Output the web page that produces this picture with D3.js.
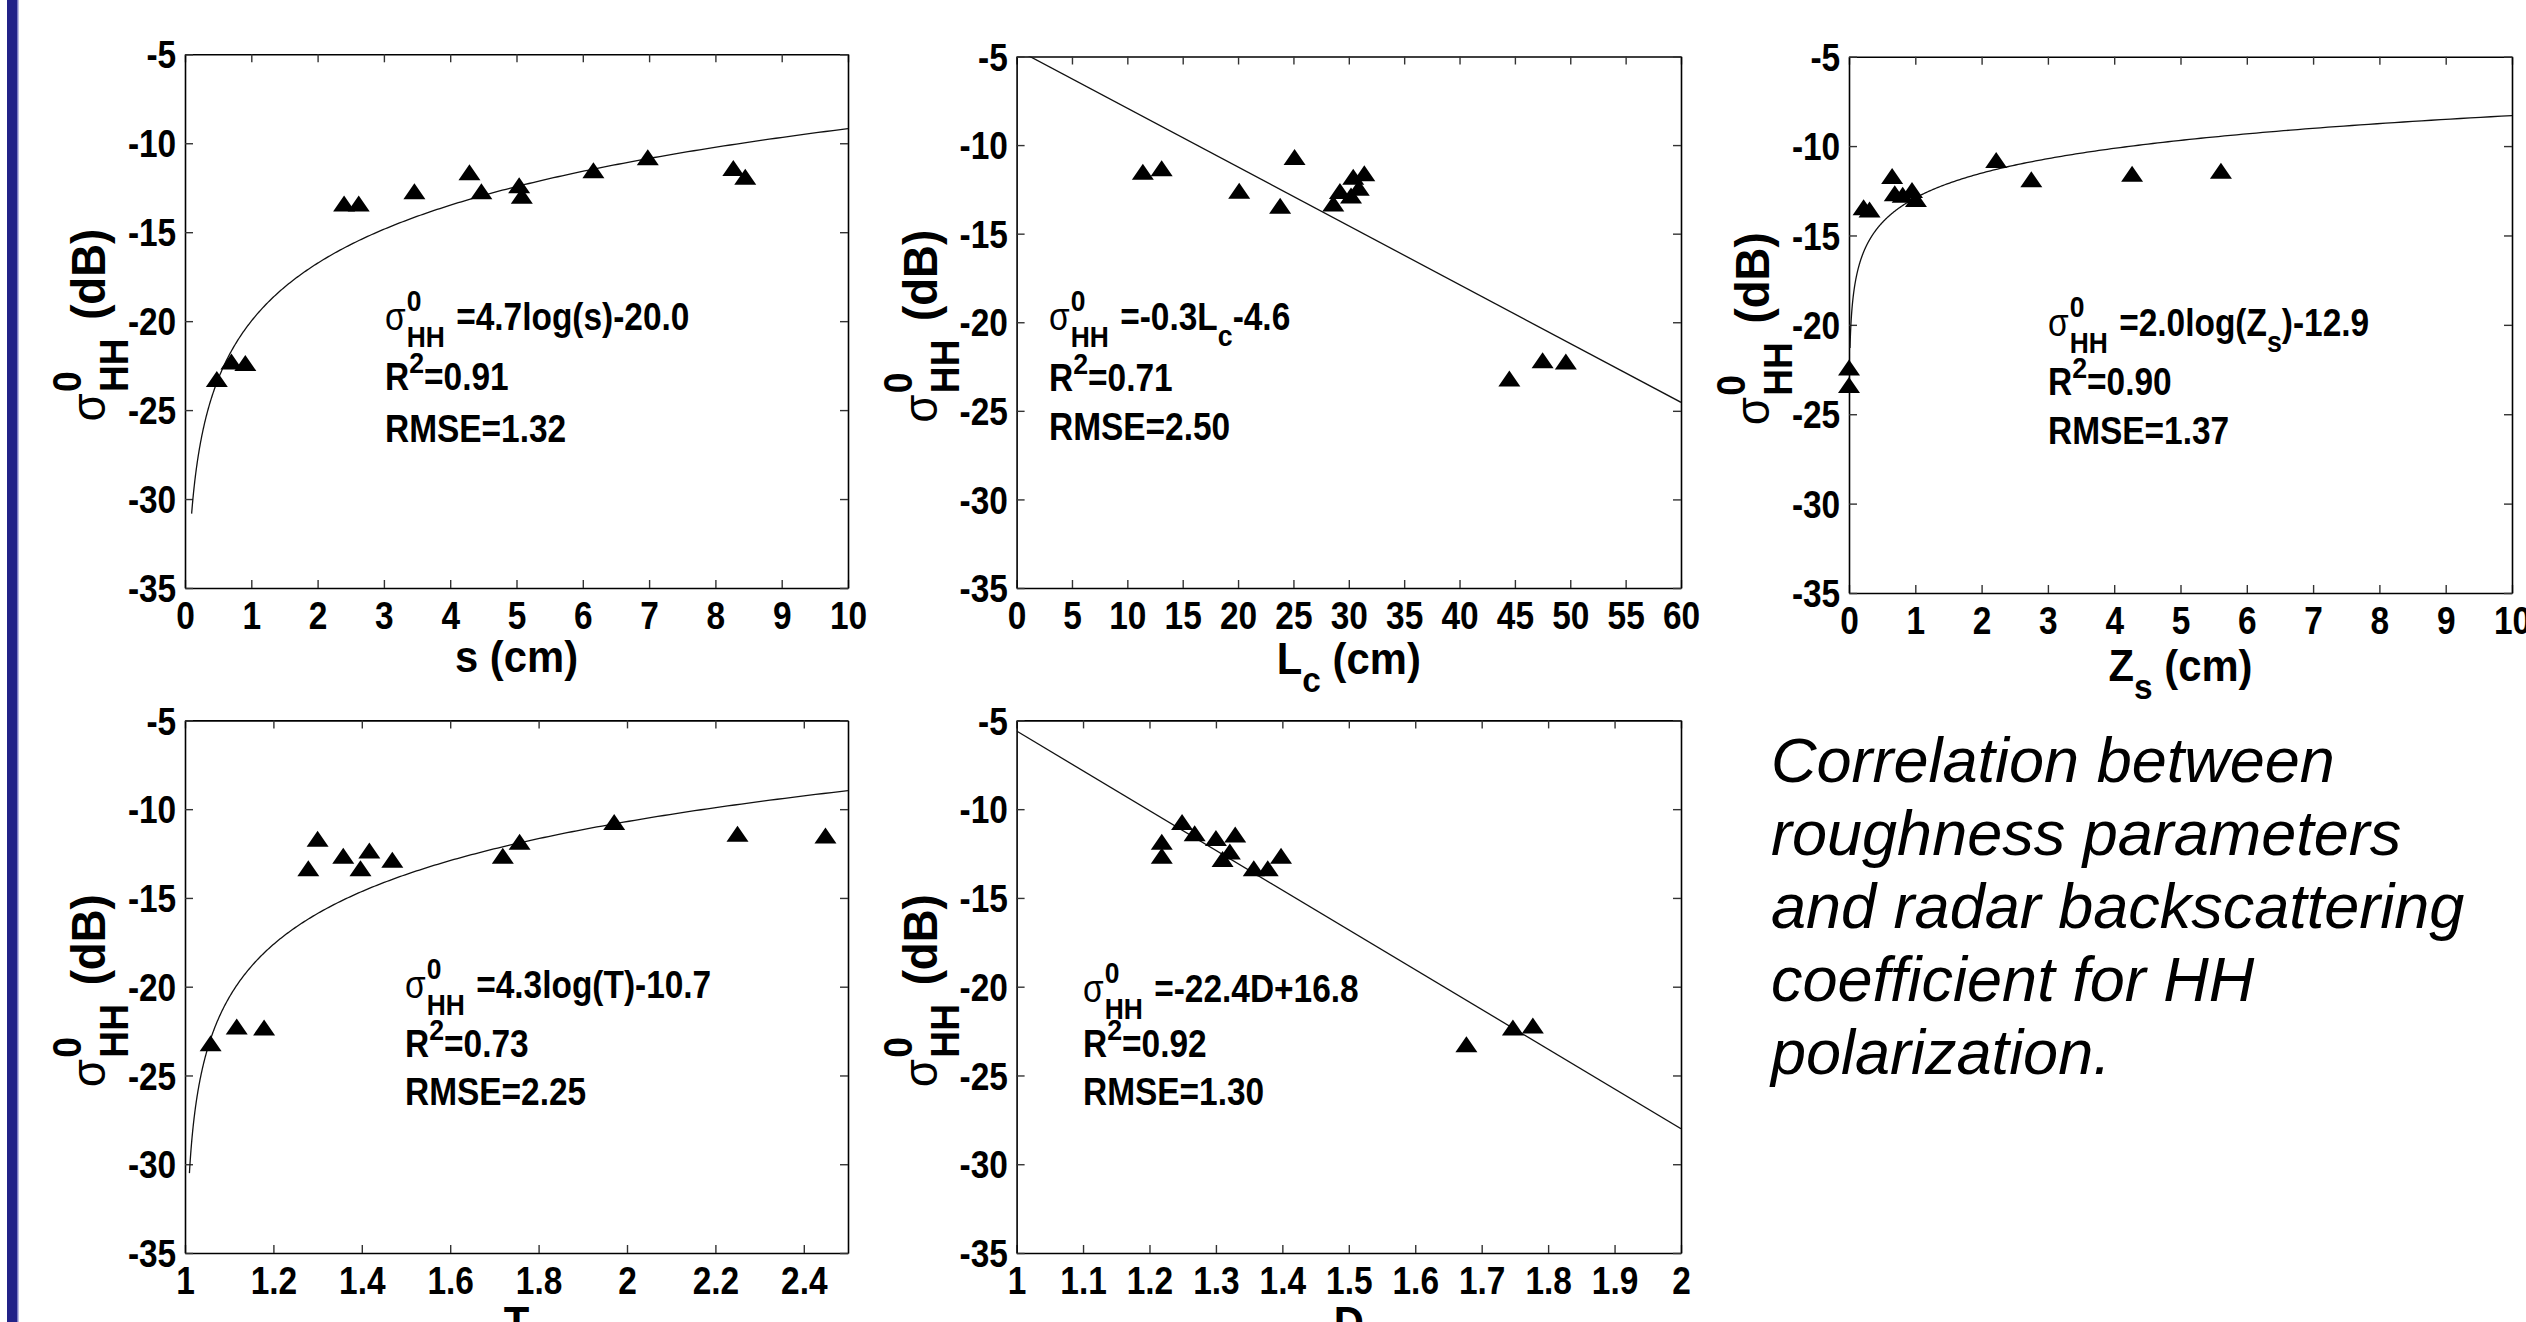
<!DOCTYPE html>
<html><head><meta charset="utf-8">
<script src="https://cdn.jsdelivr.net/npm/d3@7"></script>
<style>
html,body{margin:0;padding:0;background:#fff;}
svg{display:block;}
</style></head><body>
<svg id="chart" width="2526" height="1322"></svg>
<script>
// ---------------- DATA ----------------
// panel 1: s (cm)
const sX = [0.48,0.70,0.91,2.40,2.62,3.46,4.29,4.47,5.04,5.08,6.16,6.98,8.27,8.45];
const sY = [-23.28,-22.30,-22.38,-13.42,-13.42,-12.73,-11.66,-12.73,-12.39,-12.98,-11.54,-10.81,-11.42,-11.91];
// panel 2: Lc (cm)
const lcX = [11.4,13.1,20.1,23.8,25.1,28.6,29.2,30.2,30.4,30.9,31.4,44.5,47.5,49.6];
const lcY = [-11.53,-11.33,-12.60,-13.45,-10.70,-13.33,-12.62,-12.87,-11.82,-12.43,-11.62,-23.20,-22.17,-22.25];
// panel 3: Zs (cm)
const zsX = [0.0,0.0,0.22,0.31,0.65,0.69,0.81,0.95,1.01,2.22,2.75,4.27,5.61];
const zsY = [-22.42,-23.39,-13.45,-13.57,-11.70,-12.67,-12.75,-12.48,-12.99,-10.80,-11.89,-11.58,-11.41];
// panel 4: T
const tX = [1.058,1.117,1.179,1.279,1.300,1.358,1.397,1.417,1.469,1.719,1.757,1.971,2.250,2.449];
const tY = [-23.22,-22.27,-22.32,-13.36,-11.70,-12.65,-13.36,-12.36,-12.88,-12.65,-11.87,-10.75,-11.41,-11.51];
// panel 5: D
const dX = [1.2185,1.2185,1.249,1.268,1.300,1.310,1.321,1.329,1.357,1.378,1.398,1.677,1.747,1.777];
const dY = [-11.87,-12.65,-10.75,-11.39,-11.65,-12.84,-12.41,-11.46,-13.36,-13.36,-12.65,-23.27,-22.32,-22.22];

// tick values and labels
const yTicks = [-35,-30,-25,-20,-15,-10,-5];
const yTickLabels = ["-35","-30","-25","-20","-15","-10","-5"];
const sTicks = [0,1,2,3,4,5,6,7,8,9,10];
const sTickLabels = ["0","1","2","3","4","5","6","7","8","9","10"];
const lcTicks = [0,5,10,15,20,25,30,35,40,45,50,55,60];
const lcTickLabels = ["0","5","10","15","20","25","30","35","40","45","50","55","60"];
const zsTicks = [0,1,2,3,4,5,6,7,8,9,10];
const zsTickLabels = ["0","1","2","3","4","5","6","7","8","9","10"];
const tTicks = [1,1.2,1.4,1.6,1.8,2,2.2,2.4];
const tTickLabels = ["1","1.2","1.4","1.6","1.8","2","2.2","2.4"];
const dTicks = [1,1.1,1.2,1.3,1.4,1.5,1.6,1.7,1.8,1.9,2];
const dTickLabels = ["1","1.1","1.2","1.3","1.4","1.5","1.6","1.7","1.8","1.9","2"];

// x domains
const xDomains = [[0,10],[0,60],[0,10],[1,2.5],[1,2]];
const yDomain = [-35,-5];

// regression fits: y = a*ln(x-off)+b  or  y = a*x+b
const fitKind = ["ln","lin","ln","ln","lin"];
const fitOffset = [0,0,0,1,0];
const fitA = [4.7,-0.332,2.0,4.3,-22.4];
const fitB = [-20.0,-4.6,-12.9,-10.7,16.8];
const fitFrom = [0.1,0,0.015,1.01,1];
const fitTo = [10,60,10,2.5,2];

// annotation texts
const eqTexts = [
  [{t:"=4.7log(s)-20.0"}],
  [{t:"=-0.3L"},{t:"c",sub:true},{t:"-4.6"}],
  [{t:"=2.0log(Z"},{t:"s",sub:true},{t:")-12.9"}],
  [{t:"=4.3log(T)-10.7"}],
  [{t:"=-22.4D+16.8"}]
];
const r2Texts = ["=0.91","=0.71","=0.90","=0.73","=0.92"];
const rmseTexts = ["RMSE=1.32","RMSE=2.50","RMSE=1.37","RMSE=2.25","RMSE=1.30"];
const xTitles = [
  [{t:"s (cm)"}],
  [{t:"L"},{t:"c",sub:true},{t:" (cm)"}],
  [{t:"Z"},{t:"s",sub:true},{t:" (cm)"}],
  [{t:"T"}],
  [{t:"D"}]
];
const captionLines = ["Correlation between","roughness parameters","and radar backscattering","coefficient for HH","polarization."];

// ---------------- LAYOUT ----------------
const layout = [
  {left:185,  right:848,  top:54.3, bottom:588,  eqX:385,  eqY:[330,390,442],  xtY:672},
  {left:1016.6,right:1681,top:56.5, bottom:588,  eqX:1049, eqY:[330,391,440],  xtY:674},
  {left:1849, right:2512, top:56.7, bottom:593,  eqX:2048, eqY:[336,395,444],  xtY:681},
  {left:185,  right:848,  top:720.4,bottom:1253, eqX:405,  eqY:[998,1057,1105],xtY:1338},
  {left:1016.6,right:1681,top:720.4,bottom:1253, eqX:1083, eqY:[1002,1057,1105],xtY:1338}
];
const xsAll = [sX,lcX,zsX,tX,dX];
const ysAll = [sY,lcY,zsY,tY,dY];
const ticksAll = [sTicks,lcTicks,zsTicks,tTicks,dTicks];
const tickLabelsAll = [sTickLabels,lcTickLabels,zsTickLabels,tTickLabels,dTickLabels];

const FONT = '"Liberation Sans", Arial, Helvetica, sans-serif';
const W = 2526, H = 1322;
const svg = d3.select("#chart");
svg.append("rect").attr("width",W).attr("height",H).attr("fill","#fff");
// left blue bar
svg.append("rect").attr("x",7).attr("y",0).attr("width",11).attr("height",H).attr("fill","#222288");
svg.append("rect").attr("x",17).attr("y",0).attr("width",1.5).attr("height",H).attr("fill","#7c7cc4");

function addSegs(textSel, segs, fs){
  let shift = 0;
  segs.forEach(s=>{
    const ts = textSel.append("tspan").text(s.t);
    let target = 0;
    if (s.sub){ target = fs*0.42; ts.attr("font-size",fs*0.8); }
    else if (s.sup){ target = -fs*0.45; ts.attr("font-size",fs*0.8); }
    if (target !== shift) ts.attr("dy", target-shift);
    shift = target;
  });
}

// sigma^0_HH block; returns total width
function sigmaBlock(g, fs, scriptFs, gap, restSegs){
  const s = g.append("text").attr("x",0).attr("y",0).attr("font-size",fs)
    .attr("font-family",FONT).attr("font-weight","normal").text("σ");
  const ws = s.node().getComputedTextLength();
  const x0 = ws + fs*0.03;
  const sup = g.append("text").attr("x",x0).attr("y",-fs*0.5).attr("font-size",scriptFs)
    .attr("font-family",FONT).attr("font-weight","bold").text("0");
  const sub = g.append("text").attr("x",x0).attr("y",fs*0.46).attr("font-size",scriptFs)
    .attr("font-family",FONT).attr("font-weight","bold").text("HH");
  const w2 = Math.max(sup.node().getComputedTextLength(), sub.node().getComputedTextLength());
  const x1 = x0 + w2 + gap;
  const rest = g.append("text").attr("x",x1).attr("y",0).attr("font-size",fs)
    .attr("font-family",FONT).attr("font-weight","bold");
  addSegs(rest, restSegs, fs);
  return x1 + rest.node().getComputedTextLength();
}

layout.forEach((L,i)=>{
  const x = d3.scaleLinear().domain(xDomains[i]).range([L.left,L.right]);
  const y = d3.scaleLinear().domain(yDomain).range([L.bottom,L.top]);
  const g = svg.append("g");
  const TICK = 8;

  const styleAxis = sel => {
    sel.attr("font-family",FONT).attr("font-size",38).attr("font-weight","bold");
    sel.select(".domain").attr("stroke","#000").attr("stroke-width",1.6);
    sel.selectAll(".tick line").attr("stroke","#333").attr("stroke-width",1.4);
    sel.selectAll(".tick text").attr("fill","#000");
  };
  // bottom
  const gb = g.append("g").attr("transform",`translate(0,${L.bottom})`)
    .call(d3.axisBottom(x).tickValues(ticksAll[i]).tickFormat((d,k)=>tickLabelsAll[i][k])
      .tickSizeInner(-TICK).tickSizeOuter(0).tickPadding(14));
  styleAxis(gb);
  gb.selectAll(".tick text").attr("transform","scale(0.88,1)");
  // top
  const gt = g.append("g").attr("transform",`translate(0,${L.top})`)
    .call(d3.axisTop(x).tickValues(ticksAll[i]).tickFormat("").tickSizeInner(-TICK).tickSizeOuter(0));
  styleAxis(gt);
  // left
  const gl = g.append("g").attr("transform",`translate(${L.left},0)`)
    .call(d3.axisLeft(y).tickValues(yTicks).tickFormat((d,k)=>yTickLabels[k])
      .tickSizeInner(-TICK).tickSizeOuter(0).tickPadding(10));
  styleAxis(gl);
  gl.selectAll(".tick text").attr("transform","scale(0.88,1)").attr("dy","0.36em");
  // right
  const gr = g.append("g").attr("transform",`translate(${L.right},0)`)
    .call(d3.axisRight(y).tickValues(yTicks).tickFormat("").tickSizeInner(-TICK).tickSizeOuter(0));
  styleAxis(gr);

  // clip
  const cid = "clip"+i;
  svg.append("clipPath").attr("id",cid).append("rect")
    .attr("x",L.left).attr("y",L.top).attr("width",L.right-L.left).attr("height",L.bottom-L.top);

  // fit curve
  let pts = [];
  if (fitKind[i]==="lin"){
    pts = [fitFrom[i],fitTo[i]].map(v=>[v, fitA[i]*v+fitB[i]]);
  } else {
    const off = fitOffset[i], u0 = fitFrom[i]-off, u1 = fitTo[i]-off, N = 400;
    pts = d3.range(N+1).map(k=>{
      const u = u0*Math.pow(u1/u0,k/N);
      return [u+off, fitA[i]*Math.log(u)+fitB[i]];
    });
  }
  g.append("path").attr("clip-path",`url(#${cid})`)
    .attr("d", d3.line().x(d=>x(d[0])).y(d=>y(d[1]))(pts))
    .attr("fill","none").attr("stroke","#111").attr("stroke-width",1.3);

  // triangles
  g.append("g").selectAll("path").data(xsAll[i].map((v,k)=>[v,ysAll[i][k]])).join("path")
    .attr("transform",d=>`translate(${x(d[0])},${y(d[1])})`)
    .attr("d","M0,-8.5L11,7.5L-11,7.5Z").attr("fill","#000");

  // equation annotation
  const ge = g.append("g").attr("transform",`translate(${L.eqX},${L.eqY[0]}) scale(0.88,1)`);
  sigmaBlock(ge, 38, 30, 13, eqTexts[i]);
  const tr = g.append("text").attr("transform",`translate(${L.eqX},${L.eqY[1]}) scale(0.88,1)`)
    .attr("font-family",FONT).attr("font-size",38).attr("font-weight","bold");
  addSegs(tr,[{t:"R"},{t:"2",sup:true},{t:r2Texts[i]}],38);
  g.append("text").attr("transform",`translate(${L.eqX},${L.eqY[2]}) scale(0.88,1)`)
    .attr("font-family",FONT).attr("font-size",38).attr("font-weight","bold").text(rmseTexts[i]);

  // x title
  const xt = g.append("text").attr("transform",`translate(${(L.left+L.right)/2},${L.xtY}) scale(0.95,1)`)
    .attr("text-anchor","middle").attr("font-family",FONT).attr("font-size",44).attr("font-weight","bold");
  addSegs(xt, xTitles[i], 44);

  // y title (rotated)
  const gy = g.append("g").attr("transform",`translate(${L.left-80},${(L.top+L.bottom)/2+4}) rotate(-90) scale(0.93,1)`);
  const inner = gy.append("g");
  const tw = sigmaBlock(inner, 49, 40, 20, [{t:"(dB)"}]);
  inner.attr("transform",`translate(${-tw/2},0)`);
});

// caption
const cap = svg.append("text").attr("font-family",FONT).attr("font-style","italic")
  .attr("font-size",63).attr("fill","#000");
captionLines.forEach((t,k)=>{
  cap.append("tspan").attr("x",1771).attr("y",782+k*73).text(t);
});
</script>
</body></html>
